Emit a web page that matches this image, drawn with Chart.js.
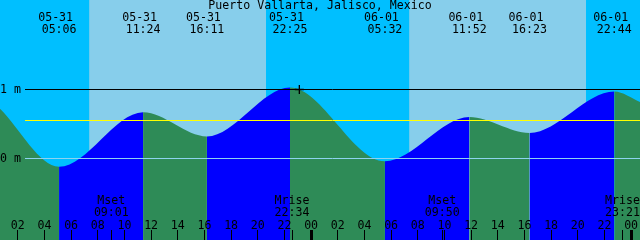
<!DOCTYPE html>
<html><head><meta charset="utf-8">
<script src="https://cdn.jsdelivr.net/npm/chart.js@4/dist/chart.umd.min.js"></script>
<style>html,body{margin:0;padding:0;background:#00BFFF;}canvas{display:block;}</style>
</head><body>
<canvas id="c" width="640" height="240"></canvas>
<script>
// ---------- data ----------
const station = 'Puerto Vallarta, Jalisco, Mexico';
const days = ['05-31', '06-01', '06-02'];

const tideDates  = ['05-31', '05-31', '05-31', '05-31', '06-01', '06-01', '06-01', '06-01'];
const tideTimes  = ['05:06', '11:24', '16:11', '22:25', '05:32', '11:52', '16:23', '22:44'];
const tideLevels = [-0.12, 0.67, 0.32, 1.03, -0.04, 0.60, 0.37, 0.97];

const windowStart = ['05-31', '00:40'];
const windowEnd   = ['06-02', '00:40'];
const edgeLevels  = [0.72, 0.82];          // level at left / right edge of the window

const sunDates = ['05-31', '06-01'];
const sunrises = ['07:21', '07:21'];
const sunsets  = ['20:38', '20:38'];

const moonDates  = ['05-31', '05-31', '06-01', '06-01'];
const moonEvents = ['Mset', 'Mrise', 'Mset', 'Mrise'];
const moonTimes  = ['09:01', '22:34', '09:50', '23:21'];

const nowMark  = ['05-31', '23:07'];
const nowLevel = 1.0;

const hourTickLabels = ['02','04','06','08','10','12','14','16','18','20','22','00',
                        '02','04','06','08','10','12','14','16','18','20','22','00'];
const depthTicks = [0, 1];
const meanLevel  = 0.55;
const levelRange = [-1.181, 2.297];

// ---------- helpers ----------
const toHour = (d, t) => {
  const [hh, mm] = t.split(':').map(Number);
  return days.indexOf(d) * 24 + hh + mm / 60;
};
const XMIN = toHour(...windowStart);
const XMAX = toHour(...windowEnd);
const [YMIN, YMAX] = levelRange;

const tideHours = tideTimes.map((t, i) => toHour(tideDates[i], t));
const tidePoints = [{x: XMIN, y: edgeLevels[0]}]
  .concat(tideHours.map((h, i) => ({x: h, y: tideLevels[i]})))
  .concat([{x: XMAX, y: edgeLevels[1]}]);

const bandPoints = [{x: XMIN, y: YMAX}];
const bandDay = [false];
sunDates.forEach((d, i) => {
  bandPoints.push({x: toHour(d, sunrises[i]), y: YMAX}); bandDay.push(true);
  bandPoints.push({x: toHour(d, sunsets[i]), y: YMAX}); bandDay.push(false);
});
bandPoints.push({x: XMAX, y: YMAX});

const moonHours = moonTimes.map((t, i) => toHour(moonDates[i], t));
const hourTicks = hourTickLabels.map((_, i) => 2 * (i + 1));

const NIGHT = '#00BFFF', DAY = '#87CEEB', RISE = '#0000FF', FALL = '#2E8B57';
const FONT = {family: 'DejaVu Sans Mono', size: 11.6, lineHeight: '12px'};

const noPad = s => { s.paddingTop = 0; s.paddingBottom = 0; s.paddingLeft = 0; s.paddingRight = 0; };

const refLines = {
  id: 'refLines',
  afterDatasetsDraw(chart) {
    const {ctx, chartArea, scales} = chart;
    const y = scales.y;
    const x0 = chartArea.left + 25;
    [[1, '#000000'], [0, '#8ED3F0'], [meanLevel, '#FFFF00']].forEach(([v, c]) => {
      const py = Math.floor(y.getPixelForValue(v)) + 0.5;
      ctx.save();
      ctx.strokeStyle = c; ctx.lineWidth = 1;
      ctx.beginPath(); ctx.moveTo(x0, py); ctx.lineTo(chartArea.right, py); ctx.stroke();
      ctx.restore();
    });
  }
};

new Chart(document.getElementById('c'), {
  type: 'line',
  data: {
    datasets: [
      {
        label: 'now', data: [{x: toHour(...nowMark), y: nowLevel}],
        showLine: false, pointStyle: 'cross', pointRadius: 4.5,
        pointBorderColor: '#000', pointBorderWidth: 1.3, order: 0
      },
      {
        label: 'tide', data: tidePoints, order: 1,
        borderWidth: 0, pointRadius: 0, cubicInterpolationMode: 'monotone',
        fill: 'start', backgroundColor: FALL,
        segment: { backgroundColor: c => c.p1.parsed.y > c.p0.parsed.y ? RISE : FALL }
      },
      {
        label: 'daylight', data: bandPoints, order: 2,
        borderWidth: 0, pointRadius: 0, tension: 0,
        fill: 'start', backgroundColor: NIGHT,
        segment: { backgroundColor: c => bandDay[c.p0DataIndex] ? DAY : NIGHT }
      }
    ]
  },
  options: {
    responsive: false, animation: false, devicePixelRatio: 1,
    layout: {padding: 0, autoPadding: false},
    plugins: {legend: {display: false}, tooltip: {enabled: false}, title: {display: false}},
    scales: {
      x: {
        type: 'linear', position: 'bottom', min: XMIN, max: XMAX,
        afterBuildTicks: s => { s.ticks = hourTicks.map(v => ({value: v})); },
        afterFit: s => { s.height = 0; noPad(s); },
        ticks: {
          autoSkip: false, maxRotation: 0, minRotation: 0, color: '#000', font: FONT,
          mirror: true, padding: 8, z: 1,
          callback: (v, i) => hourTickLabels[i]
        },
        grid: {
          display: true, drawOnChartArea: false, drawTicks: true, tickLength: -10, z: 1,
          color: '#000', lineWidth: c => (c.tick && c.tick.value % 24 === 0) ? 3 : 1
        },
        border: {display: false}
      },
      xMoon: {
        type: 'linear', axis: 'x', position: 'bottom', min: XMIN, max: XMAX,
        afterBuildTicks: s => { s.ticks = moonHours.map(v => ({value: v})); },
        afterFit: s => { s.height = 0; noPad(s); },
        ticks: {
          autoSkip: false, maxRotation: 0, minRotation: 0, color: '#000', font: FONT,
          mirror: true, padding: 32.7, z: 1,
          callback: (v, i) => [moonEvents[i], moonTimes[i]]
        },
        grid: {display: true, drawOnChartArea: false, drawTicks: true, tickLength: -10, z: 1, color: '#000', lineWidth: 1},
        border: {display: false}
      },
      xTop: {
        type: 'linear', axis: 'x', position: 'top', min: XMIN, max: XMAX,
        afterBuildTicks: s => { s.ticks = tideHours.map(v => ({value: v})); },
        afterFit: s => { s.height = 0; noPad(s); },
        ticks: {
          autoSkip: false, maxRotation: 0, minRotation: 0, color: '#000', font: FONT,
          mirror: true, padding: -0.5, z: 1,
          callback: (v, i) => [tideDates[i] + ' ', tideTimes[i]]
        },
        grid: {display: false, drawTicks: false, z: 1},
        border: {display: false},
        title: {display: true, text: station, color: '#000', font: FONT, padding: 0}
      },
      y: {
        type: 'linear', position: 'left', min: YMIN, max: YMAX,
        afterBuildTicks: s => { s.ticks = depthTicks.map(v => ({value: v})); },
        afterFit: s => { s.width = 0; noPad(s); },
        ticks: {mirror: true, padding: 0, z: 1, color: '#000', font: FONT, callback: v => v + ' m'},
        grid: {display: false, drawTicks: false},
        border: {display: false}
      }
    }
  },
  plugins: [refLines]
});
</script>
</body></html>
